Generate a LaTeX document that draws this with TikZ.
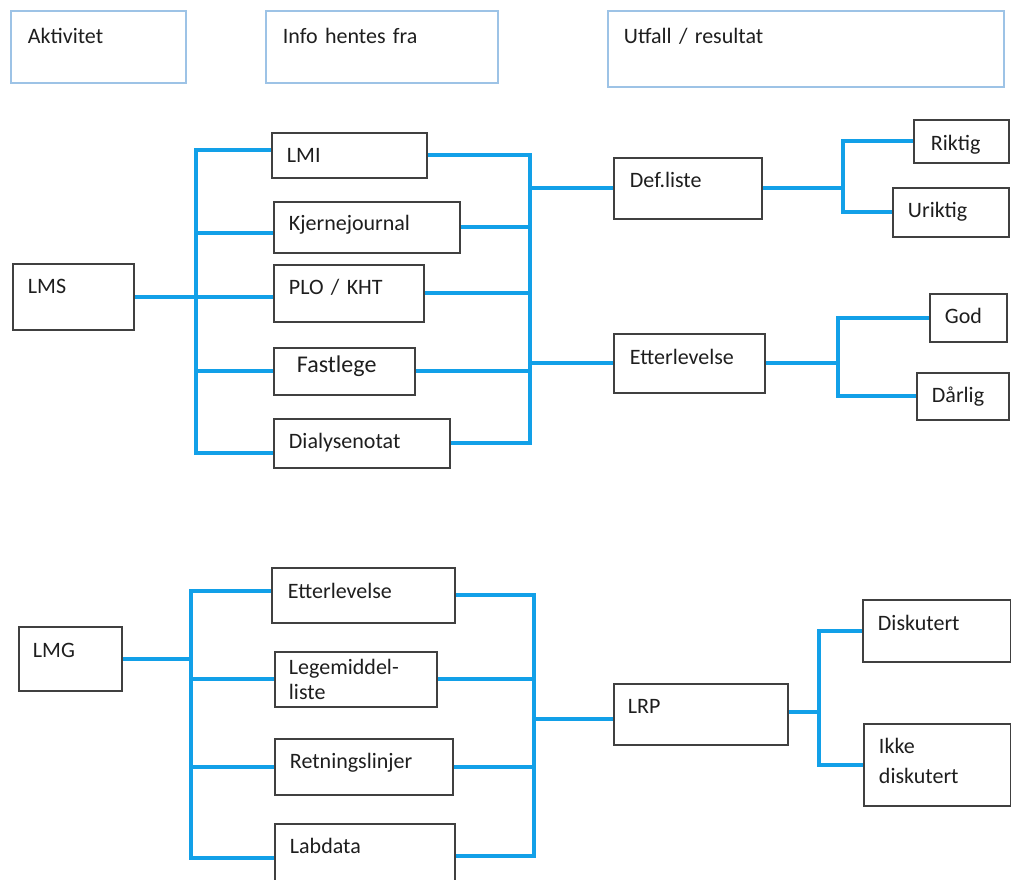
\documentclass[tikz,border=0pt]{standalone}
\usepackage{fontspec}
\setmainfont{Carlito}[WordSpace=0.8]
\usepackage{tikz}

\definecolor{wireblue}{RGB}{18,160,232}
\definecolor{hdrblue}{RGB}{157,195,230}
\definecolor{boxgray}{RGB}{64,64,64}
\definecolor{txtgray}{RGB}{30,30,30}

\tikzset{
  box/.style={draw=boxgray, line width=1.9pt, anchor=north west, align=left,
    inner xsep=15pt, inner ysep=0pt, text height=30pt, text=txtgray,
    font=\fontsize{22}{25}\selectfont},
  hbox/.style={box, draw=hdrblue, inner xsep=17pt, text height=33pt},
  wire/.style={draw=wireblue, line width=4pt},
}

\begin{document}
\begin{tikzpicture}[x=1pt, y=-1pt]

  \useasboundingbox (0,0) rectangle (1011,879);
  \clip (0,0) rectangle (1011,879);

  % Define nodes

  % Headers
  \node[hbox, text width=141pt, text depth=39pt] (akt)  at (10,10)  {Aktivitet} ; %
  \node[hbox, text width=198pt, text depth=39pt] (info) at (265,10) {Info hentes fra} ; %
  \node[hbox, inner xsep=16pt, text width=364pt, text depth=43pt] (utf) at (607,10) {Utfall / resultat} ; %

  % LMS and sources
  \node[box, text width=91pt, text depth=36pt]  (lms)  at (12,263)  {LMS} ; %
  \node[box, text width=125pt, text depth=15pt] (lmi)  at (271,132) {LMI} ; %
  \node[box, text width=156pt, text height=29pt, text depth=22pt] (kj) at (273,201) {Kjernejournal} ; %
  \node[box, text width=120pt, text depth=27pt] (plo)  at (273,264) {PLO / KHT} ; %
  \node[box, inner xsep=23pt, text width=95pt, text height=25pt, text depth=22pt,
        font=\fontsize{24}{28}\selectfont] (fast) at (273,347) {Fastlege} ; %
  \node[box, text width=146pt, text depth=19pt] (dia)  at (273,418) {Dialysenotat} ; %

  % Def.liste and Etterlevelse
  \node[box, inner xsep=16pt, text width=116pt, text depth=31pt] (def) at (613,157) {Def.liste} ; %
  \node[box, inner xsep=16pt, text width=119pt, text height=31pt, text depth=28pt] (ett) at (613,333) {Etterlevelse} ; %

  % outcomes
  \node[box, inner xsep=17pt, text width=61pt, text height=31pt, text depth=12pt] (rik) at (913,119) {Riktig} ; %
  \node[box, text width=86pt, text depth=19pt] (urik) at (892,187) {Uriktig} ; %
  \node[box, text width=47pt, text depth=18pt] (god)  at (929,293) {God} ; %
  \node[box, text width=62pt, text depth=17pt] (darl) at (916,372) {Dårlig} ; %

  % LMG and sources
  \node[box, inner xsep=14pt, text width=75pt, text height=31pt, text depth=33pt] (lmg) at (18,626) {LMG} ; %
  \node[box, inner xsep=16pt, text width=151pt, text height=31pt, text depth=24pt] (ett2) at (271,567) {Etterlevelse} ; %
  \node[box, inner xsep=14pt, text width=134pt, text height=23pt, text depth=32pt] (leg) at (274,651) {Legemiddel-\\liste} ; %
  \node[box, text width=148pt, text depth=26pt] (ret) at (274,738) {Retningslinjer} ; %
  \node[box, text width=150pt, text depth=34pt] (lab) at (274,823) {Labdata} ; %

  % LRP and outcomes
  \node[box, inner xsep=14pt, text width=146pt, text depth=31pt] (lrp) at (613,683) {LRP} ; %
  \node[box, text width=118pt, text height=31pt, text depth=31pt] (disk) at (862,599) {Diskutert} ; %
  \node[box, text width=117pt, text depth=52pt] (ikke) at (863,723) {Ikke\\[5pt]diskutert} ; %

  % Bus points
  \coordinate (sbus)  at (196,296) ;
  \coordinate (sbusr) at (530,300) ;
  \coordinate (dbus)  at (843,189) ;
  \coordinate (ebus)  at (838,364) ;
  \coordinate (gbus)  at (191,657) ;
  \coordinate (gbusr) at (534,719) ;
  \coordinate (lbus)  at (819,711) ;

  % Connect LMS to the sources
  \draw[wire] (lms.east) -- (lms.east -| plo.west) ;
  \draw[wire] ([yshift=5.5pt]lmi.west) -| (sbus) ;
  \draw[wire] ([yshift=-5.5pt]kj.west) -| (sbus) ;
  \draw[wire] (fast.west) -| (sbus) ;
  \draw[wire] ([yshift=-9.5pt]dia.west) -| (sbus) ;

  % Connect the sources to Def.liste and Etterlevelse
  \draw[wire] (lmi.east) -| (sbusr) ;
  \draw[wire] (kj.east) -| (sbusr) ;
  \draw[wire] (plo.east) -| (sbusr) ;
  \draw[wire] (fast.east) -| (sbusr) ;
  \draw[wire] (dia.east) -| (sbusr) ;
  \draw[wire] (def.west) -| (sbusr) ;
  \draw[wire] (ett.west) -| (sbusr) ;

  % Outcomes
  \draw[wire] (def.east) -| (dbus) ;
  \draw[wire] (rik.west) -| (dbus) ;
  \draw[wire] (urik.west) -| (dbus) ;
  \draw[wire] (ett.east) -| (ebus) ;
  \draw[wire] (god.west) -| (ebus) ;
  \draw[wire] (darl.west) -| (ebus) ;

  % Connect LMG to the sources
  \draw[wire] (lmg.east) -| (gbus) ;
  \draw[wire] ([yshift=4.5pt]ett2.west) -| (gbus) ;
  \draw[wire] (leg.west) -| (gbus) ;
  \draw[wire] (ret.west) -| (gbus) ;
  \draw[wire] ([yshift=-2pt]lab.west) -| (gbus) ;

  % Connect the sources to LRP
  \draw[wire] (ett2.east) -| (gbusr) ;
  \draw[wire] (leg.east) -| (gbusr) ;
  \draw[wire] (ret.east) -| (gbusr) ;
  \draw[wire] (lab.east) -| (gbusr) ;
  \draw[wire] ([yshift=-4.5pt]lrp.west) -| (gbusr) ;

  % Outcomes
  \draw[wire] ([yshift=2.5pt]lrp.east) -| (lbus) ;
  \draw[wire] (disk.west) -| (lbus) ;
  \draw[wire] (ikke.west) -| (lbus) ;

\end{tikzpicture}
\end{document}
